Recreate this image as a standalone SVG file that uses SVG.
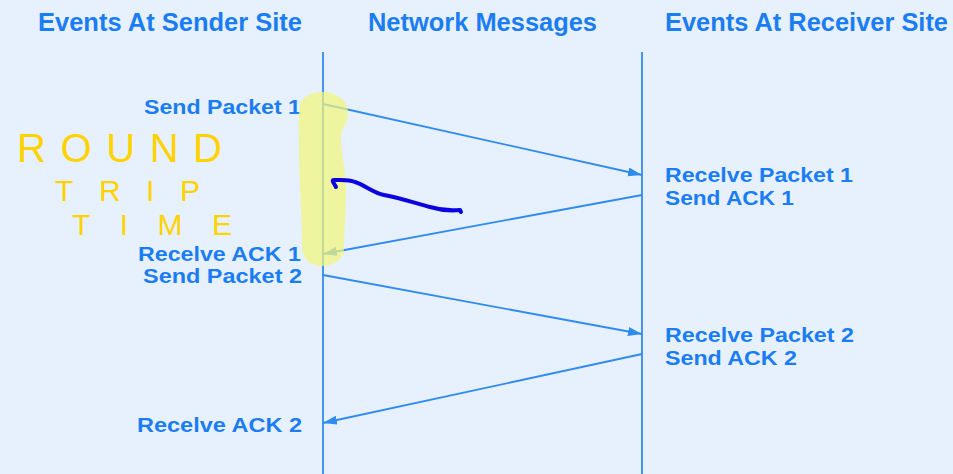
<svg xmlns="http://www.w3.org/2000/svg" width="953" height="474" viewBox="0 0 953 474">
<style>
.hdr{font-family:"Liberation Sans",Arial,sans-serif;font-weight:bold;font-size:25px;fill:#1b7df4}
.lbl{font-family:"Liberation Sans",Arial,sans-serif;font-weight:bold;font-size:21px;fill:#1b7df4}
.life{stroke:#2f8bf0;stroke-width:1.8;fill:none}
.msg{stroke:#2f8bf0;stroke-width:1.8;fill:none;marker-end:url(#ah)}
.hand{font-family:"Liberation Sans",Arial,sans-serif;font-weight:normal;fill:#ffd200}
</style>
<defs>
<marker id="ah" markerUnits="userSpaceOnUse" markerWidth="15" markerHeight="10" refX="14" refY="4.5" orient="auto">
<path d="M0,0 L14,4.5 L0,9 Z" fill="#2f8bf0"/>
</marker>
</defs>
<rect x="0" y="0" width="953" height="474" fill="#e7f1fd"/>

<g id="headers">
<text class="hdr" x="38" y="31" textLength="264" lengthAdjust="spacingAndGlyphs">Events At Sender Site</text>
<text class="hdr" x="368" y="31" textLength="229" lengthAdjust="spacingAndGlyphs">Network Messages</text>
<text class="hdr" x="665" y="31" textLength="283" lengthAdjust="spacingAndGlyphs">Events At Receiver Site</text>
</g>

<g id="lifelines">
<line class="life" x1="323" y1="52" x2="323" y2="474"/>
<line class="life" x1="642" y1="52" x2="642" y2="474"/>
</g>

<g id="connectors">
<line class="msg" x1="323" y1="104" x2="642" y2="175"/>
<line class="msg" x1="642" y1="195" x2="323" y2="254"/>
<line class="msg" x1="323" y1="275" x2="642" y2="334"/>
<line class="msg" x1="642" y1="354" x2="323" y2="423"/>
</g>

<g id="sender-events">
<text class="lbl" x="144" y="114" textLength="157" lengthAdjust="spacingAndGlyphs">Send Packet 1</text>
<text class="lbl" x="138" y="261" textLength="163" lengthAdjust="spacingAndGlyphs">Recelve ACK 1</text>
<text class="lbl" x="143" y="283" textLength="159" lengthAdjust="spacingAndGlyphs">Send Packet 2</text>
<text class="lbl" x="137" y="432" textLength="165" lengthAdjust="spacingAndGlyphs">Recelve ACK 2</text>
</g>

<g id="receiver-events">
<text class="lbl" x="665" y="182" textLength="188" lengthAdjust="spacingAndGlyphs">Recelve Packet 1</text>
<text class="lbl" x="665" y="205" textLength="129" lengthAdjust="spacingAndGlyphs">Send ACK 1</text>
<text class="lbl" x="665" y="342" textLength="189" lengthAdjust="spacingAndGlyphs">Recelve Packet 2</text>
<text class="lbl" x="665" y="365" textLength="132" lengthAdjust="spacingAndGlyphs">Send ACK 2</text>
</g>

<g id="highlight">
<path d="M322,92 C336,92 348,100 348,112 C348,124 342,128 341,135 C340,150 346,170 346,190 C346,215 344,235 344,248 C344,258 335,266 322,266 C309,266 302,258 302,245 C302,215 299,180 299,150 C299,125 298,112 300,104 C303,96 312,92 322,92 Z" fill="#f2f57a" opacity="0.72"/>
</g>

<g id="annotation">
<text class="hand" x="17" y="162" font-size="40" textLength="205" lengthAdjust="spacing">ROUND</text>
<text class="hand" x="55" y="201" font-size="30" textLength="145" lengthAdjust="spacing">TRIP</text>
<text class="hand" x="72" y="235" font-size="30" textLength="160" lengthAdjust="spacing">TIME</text>
<path d="M336,187 C334,183 331,180 334,180 C340,180 348,179 355,182 C365,185 373,193 384,195 C400,198 415,203 430,207 C440,210 450,211 460,210 L461,212" fill="none" stroke="#0a00e0" stroke-width="4" stroke-linecap="round" stroke-linejoin="round"/>
</g>
</svg>
